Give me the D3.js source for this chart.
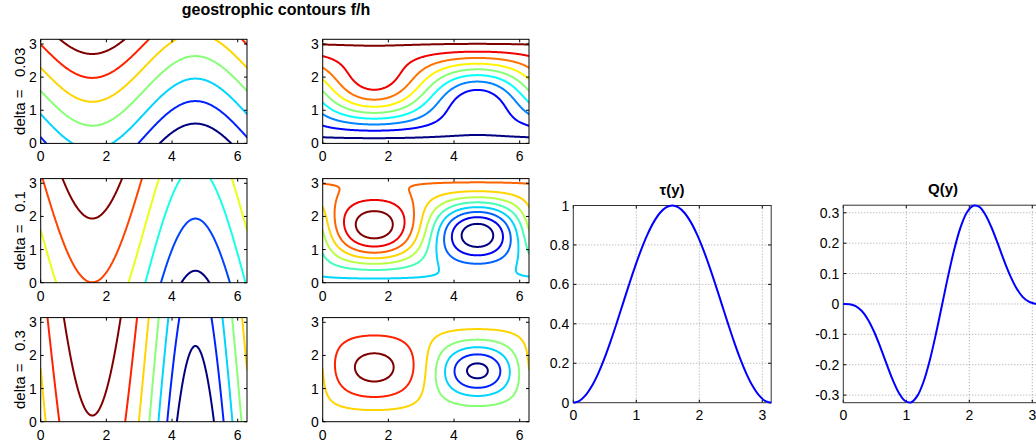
<!DOCTYPE html>
<html><head><meta charset="utf-8">
<script src="https://cdn.jsdelivr.net/npm/d3@7"></script>
<style>
body{margin:0;background:#fff;}
text{font-family:"Liberation Sans",Arial,Helvetica,sans-serif;fill:#000;}
</style></head><body>
<svg id="c" width="1036" height="445"></svg>
<script>
// ---------------- data ----------------
const deltas = [0.03, 0.1, 0.3];
// geostrophic contour field f/h = (y - fieldL) / (fieldU * h), h = 1 + delta * topo(x,y)
const fieldL = 36.585;
const fieldU = 0.35;
// contour levels (f/h values) for each row: left column (topo = sin x), middle column (topo = sin x * tau(y))
const levelsLeft = [
  [-106, -104, -102, -100, -98, -96, -94],
  [-115, -110, -105, -100, -95, -90],
  [-140, -130, -120, -110, -100, -90, -80]
];
const levelsMid = [
  [-104, -103, -102, -101, -100, -99, -98, -97, -96],
  [-110, -108, -106, -104, -102, -100, -98, -96, -94, -92],
  [-140, -130, -120, -110, -100, -90, -80]
];
const contourXTicks = [0, 2, 4, 6];
const contourYTicks = [0, 1, 2, 3];

// line plots
const ySamples = [0, 0.0982, 0.1963, 0.2945, 0.3927, 0.4909, 0.5890, 0.6872, 0.7854, 0.8836, 0.9817,
  1.0799, 1.1781, 1.2763, 1.3744, 1.4726, 1.5708, 1.6690, 1.7671, 1.8653, 1.9635, 2.0617, 2.1598,
  2.2580, 2.3562, 2.4544, 2.5525, 2.6507, 2.7489, 2.8471, 2.9452, 3.0434, 3.1416];
const tauValues = [0, 0.0096, 0.0381, 0.0843, 0.1464, 0.2222, 0.3087, 0.4025, 0.5, 0.5975, 0.6913,
  0.7778, 0.8536, 0.9157, 0.9619, 0.9904, 1, 0.9904, 0.9619, 0.9157, 0.8536, 0.7778, 0.6913,
  0.5975, 0.5, 0.4025, 0.3087, 0.2222, 0.1464, 0.0843, 0.0381, 0.0096, 0];
const qValues = [0, -0.0009, -0.0073, -0.0234, -0.0518, -0.0924, -0.1426, -0.1974, -0.25, -0.2930,
  -0.3194, -0.3234, -0.3018, -0.2544, -0.1841, -0.0966, 0, 0.0966, 0.1841, 0.2544, 0.3018, 0.3234,
  0.3194, 0.2930, 0.25, 0.1974, 0.1426, 0.0924, 0.0518, 0.0234, 0.0073, 0.0009, 0];
const lineXTicks = [0, 1, 2, 3];
const tauYTicks = [0, 0.2, 0.4, 0.6, 0.8, 1];
const qYTicks = [-0.3, -0.2, -0.1, 0, 0.1, 0.2, 0.3];

// ---------------- layout ----------------
const svg = d3.select('#c');
const rowTop = [39.3, 178.6, 317.6];
const rowH = 104.1;
const colLeft = [40.7, 322.7];
const colW = 206.3;
const tickFont = 14;

function jet(t) {
  t = Math.max(0, Math.min(1, t));
  const idx = Math.min(63, Math.floor(t * 64));
  const u = idx / 63;
  const c = v => Math.max(0, Math.min(1, v));
  const r = c(Math.min(4 * u - 1.5, -4 * u + 4.5));
  const g = c(Math.min(4 * u - 0.5, -4 * u + 3.5));
  const b = c(Math.min(4 * u + 0.5, -4 * u + 2.5));
  return d3.rgb(r * 255, g * 255, b * 255).toString();
}

function drawAxes(g, x, y, xticks, yticks, xfmt, yfmt, opts) {
  const w = x.range()[1] - x.range()[0];
  const h = y.range()[0] - y.range()[1];
  const tl = 3;
  if (opts.grid) {
    xticks.forEach(t => {
      if (Math.abs(x(t) - x.range()[0]) < 1 || Math.abs(x(t) - x.range()[1]) < 1) return;
      g.append('line').attr('x1', x(t)).attr('x2', x(t)).attr('y1', 0).attr('y2', h)
        .attr('stroke', '#8a8a8a').attr('stroke-width', 0.8).attr('stroke-dasharray', '1,2');
    });
    yticks.forEach(t => {
      if (Math.abs(y(t)) < 1 || Math.abs(y(t) - h) < 1) return;
      g.append('line').attr('y1', y(t)).attr('y2', y(t)).attr('x1', 0).attr('x2', w)
        .attr('stroke', '#8a8a8a').attr('stroke-width', 0.8).attr('stroke-dasharray', '1,2');
    });
  }
  const tg = g.append('g');
  xticks.forEach(t => {
    tg.append('line').attr('x1', x(t)).attr('x2', x(t)).attr('y1', h).attr('y2', h - tl).attr('stroke', '#000');
    tg.append('line').attr('x1', x(t)).attr('x2', x(t)).attr('y1', 0).attr('y2', tl).attr('stroke', '#000');
    tg.append('text').attr('x', x(t)).attr('y', h + opts.xLabelDy).attr('text-anchor', 'middle')
      .attr('font-size', tickFont).text(xfmt(t));
  });
  yticks.forEach(t => {
    tg.append('line').attr('y1', y(t)).attr('y2', y(t)).attr('x1', 0).attr('x2', tl).attr('stroke', '#000');
    tg.append('line').attr('y1', y(t)).attr('y2', y(t)).attr('x1', w).attr('x2', w - tl).attr('stroke', '#000');
    tg.append('text').attr('x', -opts.yLabelDx).attr('y', y(t) + 5).attr('text-anchor', 'end')
      .attr('font-size', tickFont).text(yfmt(t));
  });
  g.append('rect').attr('x', 0).attr('y', 0).attr('width', w).attr('height', h)
    .attr('fill', 'none').attr('stroke', opts.frame || '#000').attr('stroke-width', 1);
}

// marching squares isolines
function isolinePath(vals, nx, ny, xs, ys, lev, sx, sy) {
  const p = d3.path();
  const V = (i, j) => vals[j * (nx + 1) + i];
  const interp = (x0, y0, v0, x1, y1, v1) => {
    const t = (lev - v0) / (v1 - v0);
    return [x0 + t * (x1 - x0), y0 + t * (y1 - y0)];
  };
  for (let j = 0; j < ny; j++) {
    for (let i = 0; i < nx; i++) {
      const v0 = V(i, j), v1 = V(i + 1, j), v2 = V(i + 1, j + 1), v3 = V(i, j + 1);
      const b0 = v0 >= lev, b1 = v1 >= lev, b2 = v2 >= lev, b3 = v3 >= lev;
      if (b0 === b1 && b1 === b2 && b2 === b3) continue;
      const x0 = xs[i], x1 = xs[i + 1], y0 = ys[j], y1 = ys[j + 1];
      const pts = {};
      if (b0 !== b1) pts.a = interp(x0, y0, v0, x1, y0, v1);
      if (b1 !== b2) pts.b = interp(x1, y0, v1, x1, y1, v2);
      if (b2 !== b3) pts.c = interp(x1, y1, v2, x0, y1, v3);
      if (b3 !== b0) pts.d = interp(x0, y1, v3, x0, y0, v0);
      const keys = Object.keys(pts);
      const seg = (A, B) => { p.moveTo(sx(A[0]), sy(A[1])); p.lineTo(sx(B[0]), sy(B[1])); };
      if (keys.length === 2) seg(pts[keys[0]], pts[keys[1]]);
      else if (keys.length === 4) {
        const cen = (v0 + v1 + v2 + v3) / 4 >= lev;
        if (cen === b0) { seg(pts.a, pts.b); seg(pts.c, pts.d); }
        else { seg(pts.a, pts.d); seg(pts.b, pts.c); }
      }
    }
  }
  return p.toString();
}

const topoLeft = (x, y) => Math.sin(x);
const topoMid = (x, y) => Math.sin(x) * Math.pow(Math.sin(y), 2);

function contourPanel(row, col, topo, levels) {
  const delta = deltas[row];
  const g = svg.append('g').attr('transform', `translate(${colLeft[col]},${rowTop[row]})`);
  const x = d3.scaleLinear().domain([0, 2 * Math.PI]).range([0, colW]);
  const y = d3.scaleLinear().domain([0, Math.PI]).range([rowH, 0]);
  const cid = `clip${row}${col}`;
  g.append('clipPath').attr('id', cid).append('rect').attr('width', colW).attr('height', rowH);
  const nx = 260, ny = 130;
  const xs = d3.range(nx + 1).map(i => i / nx * 2 * Math.PI);
  const ys = d3.range(ny + 1).map(j => j / ny * Math.PI);
  const vals = new Float64Array((nx + 1) * (ny + 1));
  for (let j = 0; j <= ny; j++) for (let i = 0; i <= nx; i++)
    vals[j * (nx + 1) + i] = (ys[j] - fieldL) / (fieldU * (1 + delta * topo(xs[i], ys[j])));
  const cg = g.append('g').attr('clip-path', `url(#${cid})`);
  const lmin = d3.min(levels), lmax = d3.max(levels);
  levels.forEach(lev => {
    cg.append('path').attr('d', isolinePath(vals, nx, ny, xs, ys, lev, x, y))
      .attr('fill', 'none').attr('stroke', jet((lev - lmin) / (lmax - lmin)))
      .attr('stroke-width', 2).attr('stroke-linecap', 'round').attr('stroke-linejoin', 'round');
  });
  drawAxes(g, x, y, contourXTicks, contourYTicks, d3.format('d'), d3.format('d'),
    { grid: false, xLabelDy: 18, yLabelDx: 4 });
  if (col === 0) {
    const cy = rowTop[row] + rowH / 2;
    svg.append('text').attr('transform', `translate(25,${cy}) rotate(-90)`)
      .attr('text-anchor', 'middle').attr('font-size', 15).style('white-space', 'pre')
      .text('delta =   ' + String(deltas[row]));
  }
}

for (let r = 0; r < 3; r++) {
  contourPanel(r, 0, topoLeft, levelsLeft[r]);
  contourPanel(r, 1, topoMid, levelsMid[r]);
}

svg.append('text').attr('x', 276).attr('y', 15).attr('text-anchor', 'middle')
  .attr('font-size', 16).attr('font-weight', 'bold').text('geostrophic contours f/h');

function linePanel(left, top, w, h, ydom, values, yticks, title, titleX) {
  const g = svg.append('g').attr('transform', `translate(${left},${top})`);
  const x = d3.scaleLinear().domain([0, Math.PI]).range([0, w]);
  const y = d3.scaleLinear().domain(ydom).range([h, 0]);
  const fmt = v => (Math.abs(v) < 1e-9 ? '0' : String(+v.toFixed(1)));
  drawAxes(g, x, y, lineXTicks, yticks, d3.format('d'), fmt,
    { grid: true, xLabelDy: 17, yLabelDx: 4, frame: '#333' });
  const line = d3.line().x((d, i) => x(ySamples[i])).y(d => y(d)).curve(d3.curveCatmullRom);
  g.append('path').datum(values).attr('d', line).attr('fill', 'none')
    .attr('stroke', '#0000ff').attr('stroke-width', 2);
  svg.append('text').attr('x', titleX).attr('y', top - 11).attr('text-anchor', 'middle')
    .attr('font-size', 15).attr('font-weight', 'bold').text(title);
}
linePanel(573.3, 205.5, 197.9, 197.2, [0, 1], tauValues, tauYTicks, 'τ(y)', 672);
linePanel(843.3, 205.2, 197.9, 197.5, [-0.325, 0.325], qValues, qYTicks, 'Q(y)', 943);
</script>
</body></html>
